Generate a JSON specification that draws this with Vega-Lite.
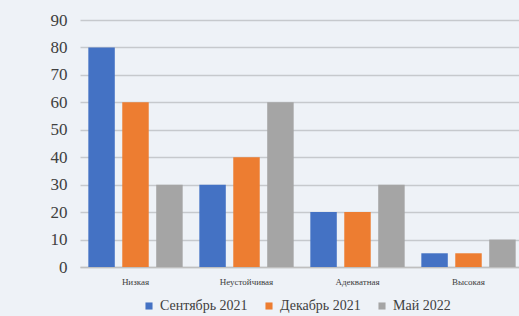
{
  "$schema": "https://vega.github.io/schema/vega-lite/v6.json",
  "autosize": "none",
  "width": 444,
  "height": 247,
  "padding": {"left": 80, "top": 20, "right": 0, "bottom": 49},
  "background": "#eef2f7",
  "config": {
    "view": {"stroke": null},
    "font": "Times New Roman, serif"
  },
  "data": {
    "values": [
      {"level": "Низкая", "period": "Сентябрь 2021", "value": 80},
      {"level": "Низкая", "period": "Декабрь 2021", "value": 60},
      {"level": "Низкая", "period": "Май 2022", "value": 30},
      {"level": "Неустойчивая", "period": "Сентябрь 2021", "value": 30},
      {"level": "Неустойчивая", "period": "Декабрь 2021", "value": 40},
      {"level": "Неустойчивая", "period": "Май 2022", "value": 60},
      {"level": "Адекватная", "period": "Сентябрь 2021", "value": 20},
      {"level": "Адекватная", "period": "Декабрь 2021", "value": 20},
      {"level": "Адекватная", "period": "Май 2022", "value": 30},
      {"level": "Высокая", "period": "Сентябрь 2021", "value": 5},
      {"level": "Высокая", "period": "Декабрь 2021", "value": 5},
      {"level": "Высокая", "period": "Май 2022", "value": 10}
    ]
  },
  "mark": {"type": "bar"},
  "encoding": {
    "x": {
      "field": "level", "type": "nominal", "sort": null,
      "scale": {"paddingInner": 0.15, "paddingOuter": 0.075},
      "axis": {"title": null, "labelAngle": 0, "ticks": false, "domainColor": "#bfbfbf", "domainWidth": 1.5, "labelFont": "Times New Roman, serif", "labelFontSize": 9, "labelColor": "#404040", "labelPadding": 10}
    },
    "xOffset": {
      "field": "period", "type": "nominal", "sort": ["Сентябрь 2021", "Декабрь 2021", "Май 2022"],
      "scale": {"paddingInner": 0.22, "paddingOuter": 0}
    },
    "y": {
      "field": "value", "type": "quantitative",
      "scale": {"domain": [0, 90], "nice": false},
      "axis": {"title": null, "values": [0, 10, 20, 30, 40, 50, 60, 70, 80, 90], "labelOverlap": false, "domain": false, "ticks": false, "labelFont": "Times New Roman, serif", "labelFontSize": 17, "labelColor": "#404040", "labelPadding": 13, "gridColor": "#c6c9cd", "gridWidth": 1.5}
    },
    "color": {
      "field": "period", "type": "nominal", "sort": ["Сентябрь 2021", "Декабрь 2021", "Май 2022"],
      "scale": {"range": ["#4472C4", "#ED7D31", "#A5A5A5"]},
      "legend": {"title": null, "orient": "none", "legendX": 62, "legendY": 279, "direction": "horizontal", "symbolType": "square", "symbolSize": 50, "labelFont": "Times New Roman, serif", "labelFontSize": 14, "labelColor": "#404040", "columnPadding": 14}
    }
  }
}
